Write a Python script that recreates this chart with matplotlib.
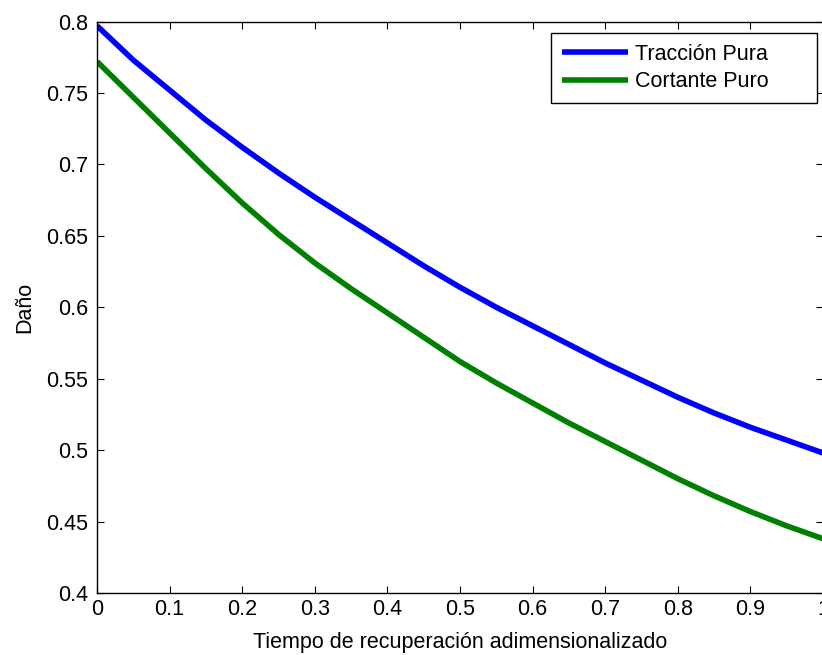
"""Daño frente al tiempo de recuperación adimensionalizado (estilo MATLAB)."""
import matplotlib
matplotlib.use("Agg")
import matplotlib.pyplot as plt

# datos
tiempo = [0.0, 0.05, 0.1, 0.15, 0.2, 0.25, 0.3, 0.35, 0.4, 0.45, 0.5,
          0.55, 0.6, 0.65, 0.7, 0.75, 0.8, 0.85, 0.9, 0.95, 1.0]
dano_traccion = [0.797, 0.773, 0.752, 0.731, 0.712, 0.694, 0.677, 0.661,
                 0.645, 0.629, 0.614, 0.600, 0.587, 0.574, 0.561, 0.549,
                 0.537, 0.526, 0.516, 0.507, 0.498]
dano_cortante = [0.772, 0.747, 0.722, 0.697, 0.673, 0.651, 0.631, 0.613,
                 0.596, 0.579, 0.562, 0.547, 0.533, 0.519, 0.506, 0.493,
                 0.480, 0.468, 0.457, 0.447, 0.438]
etiquetas = ["Tracción Pura", "Cortante Puro"]
xticks = [0, 0.1, 0.2, 0.3, 0.4, 0.5, 0.6, 0.7, 0.8, 0.9, 1]
yticks = [0.4, 0.45, 0.5, 0.55, 0.6, 0.65, 0.7, 0.75, 0.8]

plt.rcParams["font.family"] = "Liberation Sans"
plt.rcParams["font.size"] = 15.5

W, H = 822, 655
fig = plt.figure(figsize=(W / 100, H / 100), dpi=100)
ax = fig.add_axes([97 / W, 62 / H, 726 / W, 571.5 / H])

ax.plot(tiempo, dano_traccion, color="#0000FF", lw=4, label=etiquetas[0],
        solid_capstyle="butt")
ax.plot(tiempo, dano_cortante, color="#008000", lw=4, label=etiquetas[1],
        solid_capstyle="butt")

ax.set_xlim(0, 1)
ax.set_ylim(0.4, 0.8)
ax.set_xticks(xticks)
ax.set_xticklabels([f"{v:g}" for v in xticks])
ax.set_yticks(yticks)
ax.set_yticklabels([f"{v:g}" for v in yticks])
ax.tick_params(direction="in", length=5, width=0.8, top=True, right=True,
               labelsize=15.5)
ax.tick_params(axis="x", pad=4)
ax.tick_params(axis="y", pad=6.5)
for s in ax.spines.values():
    s.set_linewidth(1.0)

ax.set_xlabel("Tiempo de recuperación adimensionalizado", fontsize=15.5, labelpad=9)
ax.set_ylabel("Daño", fontsize=15.5, labelpad=8)

# caja de leyenda más ancha que su contenido, como en MATLAB
leg = ax.legend(loc="upper right", bbox_to_anchor=(0.6253, 0.8575, 0.3664, 0.1225),
                mode="expand", borderaxespad=0, fancybox=False, framealpha=1,
                edgecolor="black", handlelength=3.1, handletextpad=0.3,
                labelspacing=0.3, borderpad=0.5, fontsize=15.5)
leg.get_frame().set_linewidth(1.0)

fig.savefig("out.png", dpi=100, facecolor="white")
